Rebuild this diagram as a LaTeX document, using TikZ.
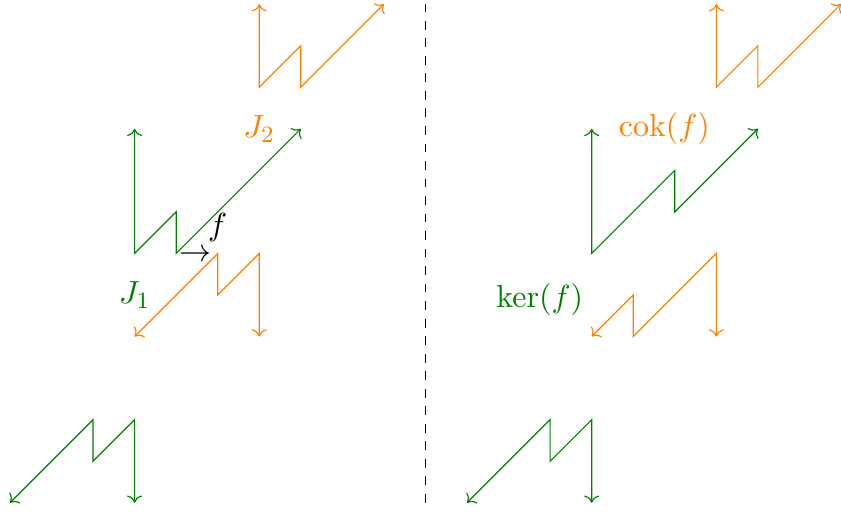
\documentclass[tikz,border=0pt]{standalone}
\usepackage{amsmath,amssymb}
\usepackage{tikz}
\usetikzlibrary{arrows.meta}
\definecolor{SeqGreen}{rgb}{0,0.5,0}
\definecolor{SeqOrange}{rgb}{1,0.5,0}

\begin{document}
\begin{tikzpicture}[x=0.5cm,y=0.5cm,font=\fontsize{10.95}{13.6}\selectfont,
    greenzig/.style={draw=SeqGreen,<->},
    orangezig/.style={draw=SeqOrange,<->}]
  \clip (-0.24,-0.28) rectangle (20.0,12.1);
  % bottom pieces, same on both sides
  \foreach \dx in {0,11}
    \draw[greenzig] (\dx,0) -- ++(2,2) -- ++(0,-1) -- ++(1,1) -- ++(0,-2);
  % left side
  \draw[orangezig] (3,4) -- (5,6) -- (5,5) -- (6,6) -- (6,4);
  \draw[greenzig] (3,9) -- (3,6) -- (4,7) -- (4,6) -- (7,9);
  \draw[orangezig] (6,12) -- (6,10) -- (7,11) -- (7,10) -- (9,12);
  \node[text=SeqGreen] (jone) at (3,5) {$J_1$};
  \node[text=SeqOrange] (jtwo) at (6,9) {$J_2$};
  \node[anchor=base] (fmap) at (4.47,5.8) {$\to$};
  \node[anchor=base] (flabel) at (5.0,6.42) {$f$};
  % separator
  \draw[dashed] (10,0) -- (10,12);
  % right side
  \draw[orangezig] (14,4) -- (15,5) -- (15,4) -- (17,6) -- (17,4);
  \draw[greenzig] (14,9) -- (14,6) -- (16,8) -- (16,7) -- (18,9);
  \draw[orangezig] (17,12) -- (17,10) -- (18,11) -- (18,10) -- (20,12);
  \node[text=SeqGreen] (kerf) at (12.75,4.9) {$\ker(f)$};
  \node[text=SeqOrange] (cokf) at (15.75,9) {$\operatorname{cok}(f)$};
\end{tikzpicture}
\end{document}
